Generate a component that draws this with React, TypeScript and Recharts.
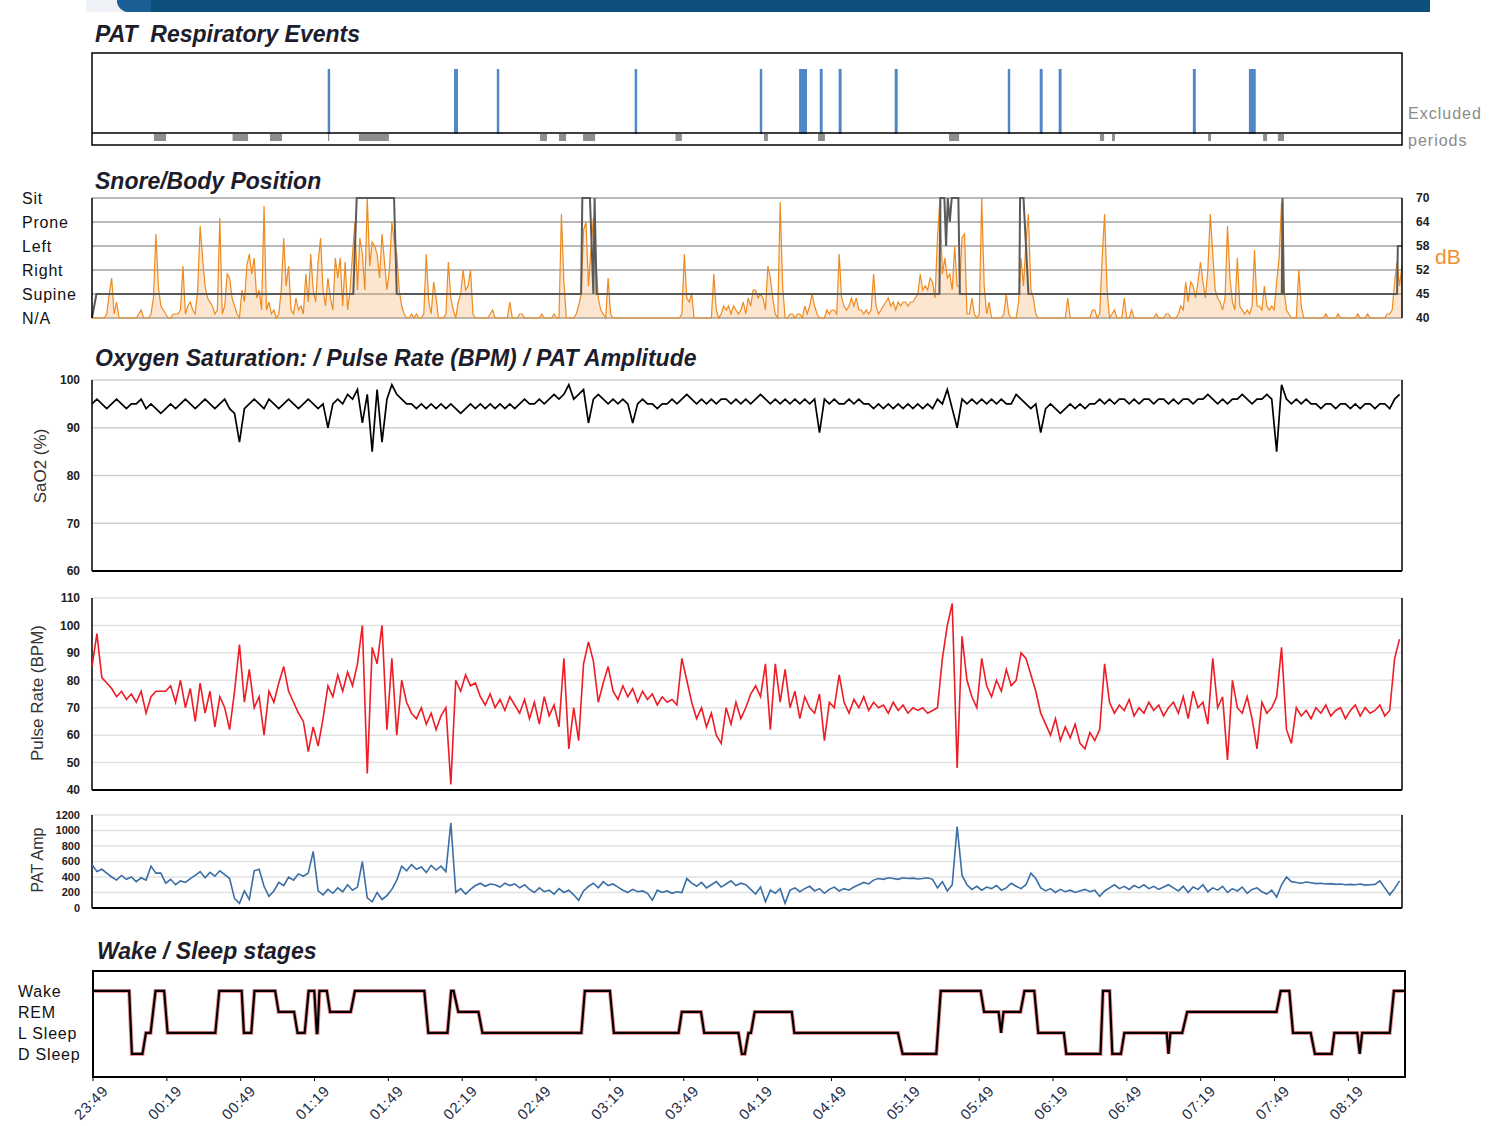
import React from 'react';
import {
  ComposedChart,
  LineChart,
  Line,
  Area,
  XAxis,
  YAxis,
  CartesianGrid,
  ReferenceArea,
  ReferenceLine,
} from 'recharts';

// minutes after 23:49
const T_END = 533;
const X_DOMAIN = [0, T_END];

const TIME_TICKS = [0, 30, 60, 90, 120, 150, 180, 210, 240, 270, 300, 330, 360, 390, 420, 450, 480, 510];
const TIME_LABELS = [
  '23:49', '00:19', '00:49', '01:19', '01:49', '02:19', '02:49', '03:19', '03:49',
  '04:19', '04:49', '05:19', '05:49', '06:19', '06:49', '07:19', '07:49', '08:19',
];

// PAT respiratory events [start, end] in minutes
const EVENTS = [
  [95.9, 96.9], [147.3, 148.9], [164.7, 165.7], [220.8, 221.8], [271.7, 272.7],
  [287.7, 290.9], [296.1, 297.3], [303.8, 305], [326.6, 327.8], [372.6, 373.6],
  [385.6, 386.8], [393.3, 394.5], [447.9, 449.1], [470.7, 473.5],
];
// excluded periods [start, end]
const EXCLUDED = [
  [25.2, 30.1], [57.2, 63.5], [72.4, 77.3], [96, 96.5], [108.6, 120.8], [182.3, 185.1],
  [190, 192.9], [199.8, 204.7], [237.4, 240], [273.4, 275], [295.4, 298.2], [348.7, 352.8],
  [410.1, 411.8], [415, 416.2], [454.1, 455.3], [476.5, 478.1], [482.5, 485],
];

const POSITION_LABELS = ['N/A', 'Supine', 'Right', 'Left', 'Prone', 'Sit'];
// body position [minute, level]
const POSITION = [
  [0, 0], [1.8, 1], [106.3, 1], [107.7, 5], [122.9, 5], [124, 1], [199, 1], [199.5, 5],
  [202.6, 5], [204, 1], [204.5, 5], [205.3, 1], [344.8, 1], [345.2, 5], [346.8, 5],
  [347.5, 3], [348.2, 5], [349, 4], [349.8, 5], [352.5, 5], [353.1, 1], [377.3, 1],
  [377.6, 5], [379, 5], [381, 1], [484.1, 1], [484.4, 5], [484.9, 1], [531, 1],
  [531.3, 3], [533, 3],
];

const DB_TICKS = [40, 46, 52, 58, 64, 70];
const DB_LABELS = ['40', '45', '52', '58', '64', '70'];
// snore level, one value per minute
const SNORE_DB = [
  40, 40, 40, 40, 40, 40, 41, 46, 50, 41,
  44, 40, 40, 40, 40, 40, 40, 40, 40, 41,
  42, 40, 40, 40, 41, 45, 61, 48, 43, 42,
  41, 40, 40, 41, 41, 41, 42, 53, 41, 43,
  44, 42, 41, 47, 63, 55, 48, 45, 44, 43,
  41, 42, 65, 41, 43, 51, 50, 45, 43, 41,
  40, 47, 44, 53, 56, 51, 55, 45, 47, 42,
  68, 42, 44, 41, 42, 40, 41, 47, 60, 48,
  53, 42, 41, 45, 42, 43, 41, 51, 44, 56,
  47, 44, 54, 60, 47, 43, 50, 45, 42, 55,
  50, 55, 43, 54, 42, 47, 56, 64, 47, 60,
  56, 47, 70, 53, 59, 58, 56, 50, 61, 54,
  47, 52, 64, 59, 56, 47, 43, 41, 40, 40,
  41, 40, 41, 40, 40, 41, 56, 44, 41, 49,
  45, 40, 40, 40, 41, 54, 45, 42, 40, 44,
  46, 52, 47, 48, 52, 41, 40, 40, 40, 40,
  40, 40, 41, 42, 40, 40, 40, 40, 40, 40,
  44, 40, 40, 40, 41, 41, 40, 40, 40, 40,
  40, 40, 40, 41, 40, 40, 40, 40, 41, 40,
  40, 66, 49, 40, 40, 40, 40, 41, 43, 46,
  62, 64, 48, 57, 65, 55, 45, 42, 41, 40,
  50, 41, 40, 40, 40, 40, 40, 40, 40, 40,
  40, 40, 40, 40, 40, 40, 40, 40, 40, 40,
  40, 40, 40, 40, 40, 40, 40, 40, 40, 40,
  41, 56, 45, 44, 46, 40, 40, 40, 40, 40,
  40, 40, 40, 51, 42, 40, 41, 43, 42, 43,
  41, 43, 42, 41, 42, 44, 41, 45, 43, 47,
  47, 45, 46, 45, 42, 53, 50, 45, 41, 40,
  69, 48, 40, 40, 41, 41, 40, 41, 41, 40,
  43, 41, 43, 46, 43, 41, 40, 40, 40, 42,
  41, 42, 42, 41, 56, 45, 43, 42, 43, 45,
  43, 45, 42, 42, 41, 42, 41, 42, 51, 43,
  41, 42, 43, 44, 45, 43, 44, 42, 44, 43,
  44, 44, 43, 44, 44, 45, 46, 51, 47, 48,
  47, 50, 49, 45, 60, 70, 51, 55, 50, 51,
  47, 58, 48, 48, 60, 61, 41, 41, 45, 41,
  40, 41, 70, 48, 41, 44, 40, 40, 40, 40,
  40, 41, 46, 41, 40, 40, 40, 44, 55, 48,
  59, 66, 47, 45, 41, 40, 40, 40, 40, 40,
  40, 40, 40, 40, 40, 40, 40, 45, 40, 40,
  40, 40, 40, 40, 40, 40, 40, 42, 42, 40,
  41, 55, 66, 47, 40, 41, 42, 40, 40, 40,
  45, 40, 40, 42, 40, 40, 40, 40, 40, 40,
  40, 40, 40, 41, 40, 40, 40, 41, 41, 40,
  40, 40, 41, 43, 42, 49, 44, 49, 48, 45,
  49, 54, 49, 45, 52, 66, 56, 47, 45, 44,
  42, 45, 63, 50, 44, 42, 55, 43, 42, 41,
  42, 41, 43, 57, 43, 43, 42, 48, 43, 42,
  43, 42, 49, 55, 69, 47, 42, 41, 40, 40,
  40, 52, 43, 40, 40, 40, 40, 40, 40, 40,
  40, 40, 41, 40, 40, 40, 40, 41, 40, 40,
  40, 40, 40, 40, 40, 41, 40, 40, 40, 41,
  40, 40, 40, 40, 40, 40, 40, 41, 41, 42,
  49, 54, 48, 53,
];

// oximetry signals, one value every 2 minutes
const SAMPLE_STEP = 2;
const SAO2 = [
  95, 96, 95, 94, 95, 96, 95, 94, 95, 95,
  96, 94, 95, 94, 93, 94, 95, 94, 95, 96,
  95, 94, 95, 96, 95, 94, 95, 96, 94, 93,
  87, 94, 95, 96, 95, 94, 96, 95, 94, 95,
  96, 95, 94, 95, 96, 95, 94, 95, 90, 95,
  96, 95, 97, 96, 98, 91, 97, 85, 98, 87,
  96, 99, 97, 96, 95, 95, 94, 95, 94, 95,
  94, 95, 94, 95, 94, 93, 94, 95, 94, 95,
  94, 95, 94, 95, 94, 95, 94, 95, 96, 95,
  95, 96, 95, 96, 97, 96, 97, 99, 96, 97,
  98, 91, 96, 97, 96, 95, 96, 95, 96, 95,
  91, 95, 96, 95, 95, 94, 95, 95, 96, 95,
  96, 97, 96, 95, 96, 95, 96, 95, 96, 96,
  95, 96, 95, 96, 95, 96, 97, 96, 95, 96,
  95, 96, 95, 96, 95, 96, 95, 96, 89, 96,
  95, 96, 95, 95, 96, 95, 96, 95, 95, 94,
  95, 94, 95, 94, 95, 94, 95, 94, 95, 94,
  95, 94, 96, 95, 98, 94, 90, 96, 95, 96,
  95, 96, 95, 96, 95, 96, 95, 95, 97, 96,
  95, 94, 95, 89, 94, 95, 94, 93, 94, 95,
  94, 95, 94, 95, 95, 96, 95, 96, 95, 96,
  96, 95, 96, 95, 96, 96, 95, 96, 96, 95,
  96, 95, 96, 96, 95, 96, 96, 97, 96, 95,
  96, 95, 96, 96, 97, 96, 95, 96, 96, 97,
  96, 85, 99, 96, 95, 96, 95, 96, 95, 95,
  94, 95, 95, 94, 95, 95, 94, 95, 94, 95,
  95, 94, 95, 95, 94, 96, 97,
];
const PULSE = [
  85, 97, 81, 79, 77, 74, 76, 73, 75, 72,
  76, 68, 74, 76, 76, 76, 78, 72, 80, 70,
  77, 65, 79, 68, 76, 63, 74, 70, 62, 76,
  93, 72, 84, 70, 74, 60, 76, 72, 79, 85,
  76, 72, 68, 65, 54, 63, 56, 66, 78, 74,
  82, 76, 83, 78, 86, 100, 46, 92, 86, 100,
  62, 88, 60, 80, 72, 68, 66, 70, 64, 68,
  62, 67, 70, 42, 80, 76, 82, 78, 79, 74,
  71, 75, 70, 73, 69, 74, 71, 68, 73, 66,
  72, 64, 74, 67, 71, 63, 88, 55, 70, 58,
  86, 94, 87, 72, 79, 85, 76, 73, 78, 74,
  77, 72, 76, 73, 75, 71, 74, 72, 73, 71,
  88, 80, 72, 66, 70, 63, 68, 60, 57, 70,
  64, 72, 66, 70, 75, 78, 74, 86, 62, 86,
  72, 84, 70, 76, 66, 74, 70, 68, 75, 58,
  72, 70, 82, 72, 68, 73, 70, 74, 69, 72,
  70, 71, 68, 72, 69, 71, 68, 70, 69, 70,
  68, 69, 70, 88, 100, 108, 48, 96, 80, 74,
  70, 88, 78, 74, 80, 76, 84, 78, 80, 90,
  88, 82, 76, 68, 64, 60, 66, 58, 63, 59,
  64, 57, 55, 61, 58, 62, 86, 72, 68, 71,
  69, 73, 67, 70, 68, 72, 69, 71, 67, 70,
  72, 68, 74, 66, 76, 70, 72, 64, 88, 70,
  74, 51, 80, 70, 68, 74, 66, 55, 72, 68,
  70, 74, 92, 62, 57, 70, 67, 69, 66, 70,
  68, 71, 67, 69, 70, 66, 69, 71, 67, 70,
  68, 69, 71, 67, 69, 88, 95,
];
const PAT_AMP = [
  560, 470, 500, 450, 400, 360, 420, 370, 400, 340,
  390, 360, 540, 450, 450, 320, 370, 300, 350, 330,
  380, 420, 470, 390, 460, 410, 480, 430, 380, 120,
  60, 220, 110, 480, 500, 280, 150, 220, 330, 290,
  400, 360, 440, 410, 450, 730, 220, 170, 240, 190,
  260, 210, 300, 230, 270, 600, 130, 80, 200, 110,
  160, 240, 360, 540, 480, 560, 500, 530, 460, 550,
  490, 540, 470, 1100, 200, 250, 180, 240, 290, 320,
  280, 310, 300, 270, 320, 290, 310, 260, 300, 240,
  200, 260, 210, 230, 180, 250, 200, 230, 170, 100,
  220, 280, 320, 260, 340, 290, 310, 270, 230, 200,
  240, 210, 220, 190, 100, 230, 200, 220, 190, 210,
  200, 380, 320, 280, 330, 260, 300, 340, 270, 310,
  350, 290, 320, 300, 240, 180, 270, 80, 230, 190,
  250, 60, 230, 260, 210, 250, 280, 220, 250, 190,
  240, 270, 220, 250, 230, 270, 300, 330, 310, 360,
  380, 370, 390, 380, 370, 390, 380, 385, 375, 380,
  390, 370, 260, 340, 220, 300, 1050, 420, 300, 240,
  280, 230, 270, 250, 290, 230, 260, 320, 280, 250,
  300, 450, 380, 260, 220, 250, 200, 240, 210, 230,
  200, 220, 240, 210, 230, 150, 220, 260, 300, 250,
  280, 240, 290, 260, 300, 250, 280, 240, 270, 300,
  260, 220, 280, 200, 270, 240, 300, 210, 260, 230,
  280, 200, 250, 220, 270, 190, 240, 260, 210, 180,
  230, 140, 300, 400, 340, 330, 320, 335, 325, 315,
  320, 310, 315, 305, 310, 300, 305, 300, 310, 295,
  300, 305, 350, 260, 170, 250, 350,
];

const STAGE_LABELS = ['D Sleep', 'L Sleep', 'REM', 'Wake'];
// hypnogram [minute, stage]
const SLEEP = [
  [0, 3], [14.7, 3], [15.8, 0], [20.1, 0], [21.5, 1], [23.4, 1], [25.4, 3], [28.9, 3],
  [30.3, 1], [49.7, 1], [51.3, 3], [60.4, 3], [61.3, 1], [64.3, 1], [65.6, 3], [74, 3],
  [75.4, 2], [81.7, 2], [83.1, 1], [86, 1], [87.6, 3], [89.9, 3], [90.9, 1], [91.2, 1],
  [92, 3], [95, 3], [96.3, 2], [104.7, 2], [106.4, 3], [134.6, 3], [136.2, 1], [144, 1],
  [145.5, 3], [146.5, 3], [148.4, 2], [156.6, 2], [158.2, 1], [198.4, 1], [199.8, 3],
  [210, 3], [211.6, 1], [237.9, 1], [239.2, 2], [247, 2], [248.3, 1], [262.2, 1],
  [263.6, 0], [264.8, 0], [266.3, 1], [267.3, 1], [268.8, 2], [283.9, 2], [284.9, 1],
  [327, 1], [328.9, 0], [342.6, 0], [344.4, 3], [360.6, 3], [362, 2], [367.9, 2],
  [368.9, 1], [369.9, 2], [376.8, 2], [378.4, 3], [382.4, 3], [384, 1], [394.4, 1],
  [395.4, 0], [409.3, 0], [410.3, 3], [413, 3], [414.1, 0], [417.6, 0], [419, 1],
  [436.2, 1], [436.9, 0], [437.7, 1], [442.5, 1], [444.5, 2], [480.8, 2], [482.5, 3],
  [486, 3], [487.5, 1], [494.7, 1], [496.4, 0], [503.2, 0], [504.3, 1], [513.6, 1],
  [514.6, 0], [515.6, 1], [526.8, 1], [528.5, 3], [533, 3],
];

const FONT = "'Liberation Sans', Arial, sans-serif";

// respiratory panel y scale is in pixels from the bottom of the box
const RESP_TOP = 92;
const SEP_Y = 12;

const snoreRows = SNORE_DB.map((db, i) => ({ t: i, db }));
const positionRows = POSITION.map(([t, pos]) => ({ t, pos }));
const oxRows = SAO2.map((v, i) => ({ t: i * SAMPLE_STEP, sao2: v, pulse: PULSE[i], amp: PAT_AMP[i] }));
const sleepRows = SLEEP.map(([t, stage]) => ({ t, stage }));
const separatorRows = X_DOMAIN.map((t) => ({ t, sep: SEP_Y }));

const abs = (left: number, top: number): React.CSSProperties => ({ position: 'absolute', left, top });

const Title = ({ x, y, text }: { x: number; y: number; text: string }) => (
  <div
    style={{
      ...abs(x, y),
      font: `italic bold 23px ${FONT}`,
      lineHeight: '23px',
      color: '#1d1d2b',
      whiteSpace: 'pre',
    }}
  >
    {text}
  </div>
);

const VLabel = ({ cx, cy, text, size }: { cx: number; cy: number; text: string; size: number }) => (
  <div
    style={{
      ...abs(cx, cy),
      transform: 'translate(-50%, -50%) rotate(-90deg)',
      font: `${size}px ${FONT}`,
      color: '#333',
      whiteSpace: 'nowrap',
    }}
  >
    {text}
  </div>
);

const leftLabelTick = (labels: string[], x0: number) => (props: any) => (
  <text x={x0} y={props.y} dy="0.36em" textAnchor="start" fontSize={16} letterSpacing={0.8} fontFamily={FONT} fill="#111">
    {labels[props.payload.value]}
  </text>
);

const numTick = (size: number) => (props: any) => (
  <text x={80} y={props.y} dy="0.36em" textAnchor="end" fontSize={size} fontWeight="bold" fontFamily={FONT} fill="#222">
    {props.payload.value}
  </text>
);

const dbTick = (props: any) => (
  <text x={1416} y={props.y} dy="0.36em" textAnchor="start" fontSize={12} fontWeight="bold" fontFamily={FONT} fill="#222">
    {DB_LABELS[DB_TICKS.indexOf(props.payload.value)]}
  </text>
);

const timeTick = (props: any) => {
  const ax = props.x + 16;
  const ay = props.y + 9;
  return (
    <text
      x={ax}
      y={ay}
      textAnchor="end"
      transform={`rotate(-45 ${ax} ${ay})`}
      fontSize={15}
      letterSpacing={0.6}
      fontFamily={FONT}
      fill="#1e2d4a"
    >
      {TIME_LABELS[TIME_TICKS.indexOf(props.payload.value)]}
    </text>
  );
};

type SignalProps = {
  top: number;
  plotTop: number;
  plotHeight: number;
  dataKey: string;
  color: string;
  domain: number[];
  ticks: number[];
  tickSize: number;
  grid: string;
  width: number;
};

const SignalPanel = ({ top, plotTop, plotHeight, dataKey, color, domain, ticks, tickSize, grid, width }: SignalProps) => (
  <div style={abs(0, top)}>
    <LineChart width={1500} height={plotTop + plotHeight + 6} data={oxRows} margin={{ top: plotTop, right: 98, bottom: 6, left: 32 }}>
      <XAxis type="number" dataKey="t" domain={X_DOMAIN} hide />
      <YAxis
        type="number"
        domain={domain}
        ticks={ticks}
        interval={0}
        width={60}
        axisLine={false}
        tickLine={false}
        tick={numTick(tickSize)}
      />
      <CartesianGrid vertical={false} stroke={grid} strokeWidth={1.5} />
      <ReferenceLine x={0} stroke="#000" strokeWidth={1.5} />
      <ReferenceLine x={T_END} stroke="#000" strokeWidth={1.5} />
      <ReferenceLine y={domain[0]} stroke="#000" strokeWidth={2} />
      <Line dataKey={dataKey} type="linear" stroke={color} strokeWidth={width} dot={false} isAnimationActive={false} />
    </LineChart>
  </div>
);

const App = () => {
  return (
    <div style={{ position: 'absolute', left: 0, top: 0, width: 1500, height: 1126, background: '#fff', overflow: 'hidden' }}>
      {/* header band */}
      <div style={{ ...abs(86, 0), width: 40, height: 12, background: '#eef2f6' }} />
      <div style={{ ...abs(117, 0), width: 1313, height: 12, background: '#0c4f7b', borderBottomLeftRadius: 12 }} />
      <div style={{ ...abs(117, 0), width: 34, height: 12, background: '#1b5f97', borderBottomLeftRadius: 12 }} />

      <Title x={95} y={23} text="PAT  Respiratory Events" />
      <div style={abs(0, 45)}>
        <ComposedChart width={1500} height={105} data={separatorRows} margin={{ top: 8, right: 98, bottom: 5, left: 92 }}>
          <XAxis type="number" dataKey="t" domain={X_DOMAIN} hide />
          <YAxis type="number" domain={[0, RESP_TOP]} hide />
          {EXCLUDED.map(([a, b], k) => (
            <ReferenceArea key={'x' + k} x1={a} x2={b} y1={4} y2={11} fill="#8e8e8e" fillOpacity={1} stroke="none" />
          ))}
          <Line dataKey="sep" type="linear" stroke="#000" strokeWidth={1.5} dot={false} isAnimationActive={false} />
          {EVENTS.map(([a, b], k) => (
            <ReferenceArea key={'e' + k} x1={a} x2={b} y1={11} y2={76} fill="#4f86c6" fillOpacity={1} stroke="none" />
          ))}
          <ReferenceArea x1={0} x2={T_END} y1={0} y2={RESP_TOP} fill="none" fillOpacity={0} stroke="#000" strokeWidth={1.5} />
        </ComposedChart>
      </div>
      <div style={{ ...abs(1408, 105), font: `16px ${FONT}`, letterSpacing: 1, color: '#8a8a8a' }}>Excluded</div>
      <div style={{ ...abs(1408, 132), font: `16px ${FONT}`, letterSpacing: 1, color: '#8a8a8a' }}>periods</div>

      <Title x={95} y={170} text="Snore/Body Position" />
      <div style={abs(0, 190)}>
        <ComposedChart width={1500} height={136} data={snoreRows} margin={{ top: 8, right: 58, bottom: 8, left: 22 }}>
          <XAxis type="number" dataKey="t" domain={X_DOMAIN} hide />
          <YAxis
            yAxisId="pos"
            type="number"
            domain={[0, 5]}
            ticks={[0, 1, 2, 3, 4, 5]}
            interval={0}
            width={70}
            axisLine={false}
            tickLine={false}
            tick={leftLabelTick(POSITION_LABELS, 22)}
          />
          <YAxis
            yAxisId="db"
            orientation="right"
            type="number"
            domain={[40, 70]}
            ticks={DB_TICKS}
            interval={0}
            width={40}
            axisLine={false}
            tickLine={false}
            tick={dbTick}
          />
          <CartesianGrid yAxisId="pos" vertical={false} stroke="#a2a2a2" strokeWidth={1.5} />
          <Line
            yAxisId="pos"
            data={positionRows}
            dataKey="pos"
            type="linear"
            stroke="#5a5a5a"
            strokeWidth={2}
            dot={false}
            isAnimationActive={false}
          />
          <Area
            yAxisId="db"
            dataKey="db"
            type="linear"
            stroke="#ee8a1f"
            strokeWidth={1.2}
            fill="#f29a3e"
            fillOpacity={0.25}
            baseValue={40}
            dot={false}
            isAnimationActive={false}
          />
          <ReferenceLine yAxisId="pos" x={0} stroke="#000" strokeWidth={1.5} />
          <ReferenceLine yAxisId="pos" x={T_END} stroke="#000" strokeWidth={1.5} />
        </ComposedChart>
      </div>
      <div style={{ ...abs(1435, 245), font: `21px ${FONT}`, color: '#f0902c' }}>dB</div>

      <Title x={95} y={347} text="Oxygen Saturation: / Pulse Rate (BPM) / PAT Amplitude" />
      <SignalPanel
        top={370}
        plotTop={10}
        plotHeight={191}
        dataKey="sao2"
        color="#000"
        domain={[60, 100]}
        ticks={[60, 70, 80, 90, 100]}
        tickSize={12}
        grid="#cfcfcf"
        width={1.7}
      />
      <VLabel cx={41} cy={466} text="SaO2 (%)" size={17} />

      <SignalPanel
        top={590}
        plotTop={8}
        plotHeight={192}
        dataKey="pulse"
        color="#ee1c25"
        domain={[40, 110]}
        ticks={[40, 50, 60, 70, 80, 90, 100, 110]}
        tickSize={12}
        grid="#e2e2e2"
        width={1.6}
      />
      <VLabel cx={38} cy={693} text="Pulse Rate (BPM)" size={17} />

      <SignalPanel
        top={805}
        plotTop={10}
        plotHeight={93}
        dataKey="amp"
        color="#3a6ea5"
        domain={[0, 1200]}
        ticks={[0, 200, 400, 600, 800, 1000, 1200]}
        tickSize={11}
        grid="#e2e2e2"
        width={1.6}
      />
      <VLabel cx={38} cy={860} text="PAT Amp" size={16} />

      <Title x={97} y={940} text="Wake / Sleep stages" />
      <div style={abs(0, 960)}>
        <LineChart width={1500} height={165} data={sleepRows} margin={{ top: 11, right: 95, bottom: 0, left: 23 }}>
          <XAxis
            type="number"
            dataKey="t"
            domain={X_DOMAIN}
            ticks={TIME_TICKS}
            interval={0}
            height={48}
            tickSize={4}
            tickLine={{ stroke: '#000' }}
            axisLine={false}
            tick={timeTick}
          />
          <YAxis
            type="number"
            domain={[-1.1, 3.95]}
            ticks={[0, 1, 2, 3]}
            interval={0}
            width={70}
            axisLine={false}
            tickLine={false}
            tick={leftLabelTick(STAGE_LABELS, 18)}
          />
          <ReferenceArea x1={0} x2={T_END} y1={-1.1} y2={3.95} fill="none" fillOpacity={0} stroke="#000" strokeWidth={2} />
          <Line dataKey="stage" type="linear" stroke="#e3262c" strokeWidth={4} strokeOpacity={0.5} dot={false} isAnimationActive={false} />
          <Line dataKey="stage" type="linear" stroke="#000" strokeWidth={2.2} dot={false} isAnimationActive={false} />
        </LineChart>
      </div>
    </div>
  );
};

export default App;
